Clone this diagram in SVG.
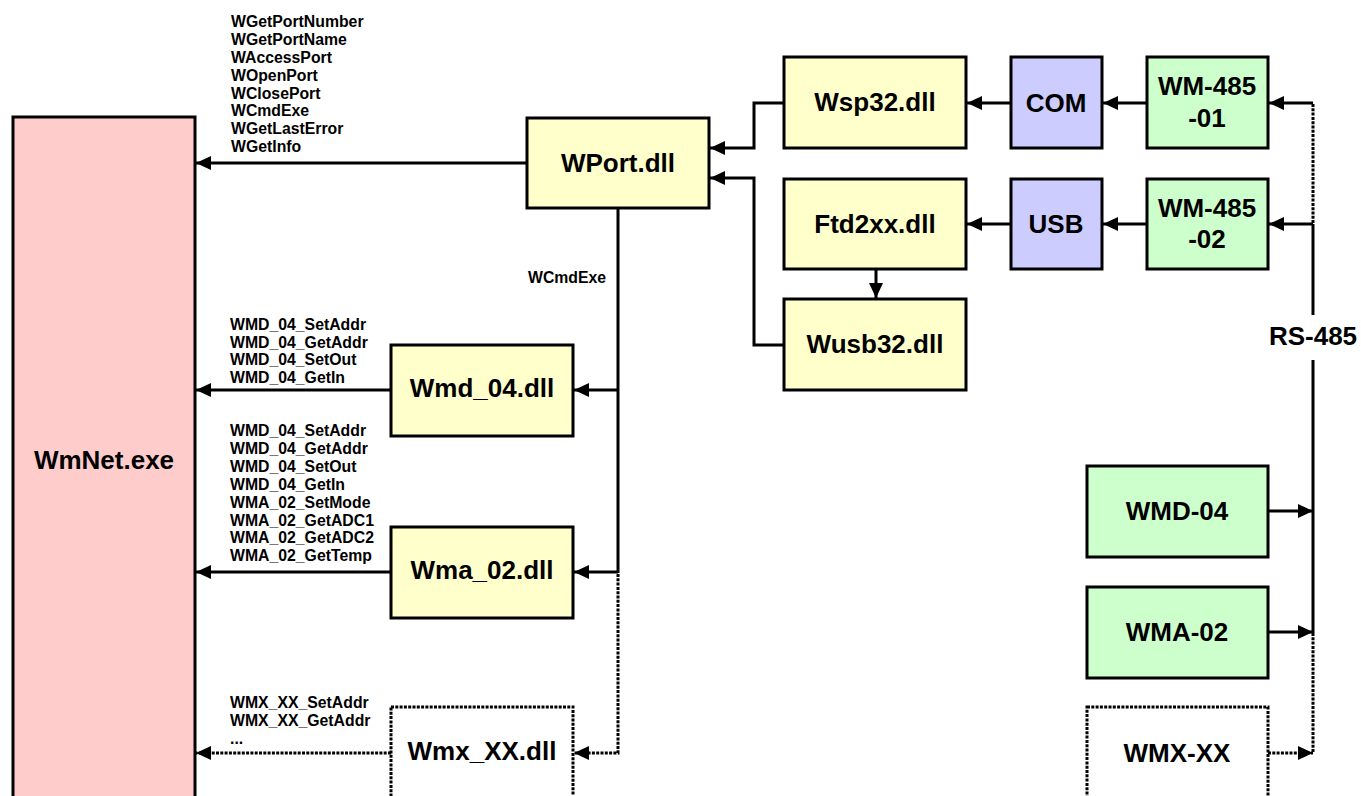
<svg xmlns="http://www.w3.org/2000/svg" width="1361" height="796" viewBox="0 0 1361 796">
<defs>
<marker id="ah" markerUnits="userSpaceOnUse" markerWidth="16" markerHeight="16" viewBox="0 0 16 16" refX="15" refY="8" orient="auto">
<path d="M0,1 L15,8 L0,15 Z" fill="#000"/>
</marker>
</defs>
<style>
.box{stroke:#000;stroke-width:3}
.pink{fill:#FFCCCC}
.yel{fill:#FFFFCC}
.blu{fill:#CCCCFF}
.grn{fill:#CCFFCC}
.dot{fill:#fff;stroke:#000;stroke-width:3;stroke-dasharray:3 1.3}
.big{font-family:"Liberation Sans",Arial,sans-serif;font-weight:bold;font-size:26px;text-anchor:middle;fill:#000}
.sm{font-family:"Liberation Sans",Arial,sans-serif;font-weight:bold;font-size:15.8px;fill:#000}
.ln{fill:none;stroke:#000;stroke-width:3}
.dl{fill:none;stroke:#000;stroke-width:3;stroke-dasharray:3 1.3}
</style>
<rect width="1361" height="796" fill="#fff"/>

<g id="connectors">
<path class="ln" d="M527,163 H196" marker-end="url(#ah)"/>
<path class="ln" d="M784,103 H754 V148 H710" marker-end="url(#ah)"/>
<path class="ln" d="M784,345 H754 V178 H710" marker-end="url(#ah)"/>
<path class="ln" d="M876,269 V298" marker-end="url(#ah)"/>
<path class="ln" d="M1011,103 H967" marker-end="url(#ah)"/>
<path class="ln" d="M1011,224 H967" marker-end="url(#ah)"/>
<path class="ln" d="M1147,103 H1103" marker-end="url(#ah)"/>
<path class="ln" d="M1147,224 H1103" marker-end="url(#ah)"/>
<path class="ln" d="M1313,103 H1269" marker-end="url(#ah)"/>
<path class="dl" d="M1313,104 V224"/>
<path class="ln" d="M1313,224 H1269" marker-end="url(#ah)"/>
<path class="ln" d="M1313,224 V315"/>
<path class="ln" d="M1313,360 V633"/>
<path class="ln" d="M1268,511 H1313" marker-end="url(#ah)"/>
<path class="ln" d="M1268,632 H1313" marker-end="url(#ah)"/>
<path class="dl" d="M1313,633 V753"/>
<path class="dl" d="M1268,753 H1313" marker-end="url(#ah)"/>
<path class="ln" d="M618,208 V573"/>
<path class="ln" d="M618,390 H574" marker-end="url(#ah)"/>
<path class="ln" d="M618,572 H574" marker-end="url(#ah)"/>
<path class="dl" d="M618,574 V753 H574" marker-end="url(#ah)"/>
<path class="ln" d="M391,390 H196" marker-end="url(#ah)"/>
<path class="ln" d="M391,572 H196" marker-end="url(#ah)"/>
<path class="dl" d="M391,753 H196" marker-end="url(#ah)"/>
</g>

<g id="labels">
<text class="sm" x="231" y="27">WGetPortNumber</text>
<text class="sm" x="231" y="45">WGetPortName</text>
<text class="sm" x="231" y="63">WAccessPort</text>
<text class="sm" x="231" y="81">WOpenPort</text>
<text class="sm" x="231" y="99">WClosePort</text>
<text class="sm" x="231" y="116">WCmdExe</text>
<text class="sm" x="231" y="134">WGetLastError</text>
<text class="sm" x="231" y="152">WGetInfo</text>
<text class="sm" x="528" y="283">WCmdExe</text>
<text class="sm" x="230" y="330">WMD_04_SetAddr</text>
<text class="sm" x="230" y="348">WMD_04_GetAddr</text>
<text class="sm" x="230" y="365">WMD_04_SetOut</text>
<text class="sm" x="230" y="383">WMD_04_GetIn</text>
<text class="sm" x="230" y="436">WMD_04_SetAddr</text>
<text class="sm" x="230" y="454">WMD_04_GetAddr</text>
<text class="sm" x="230" y="472">WMD_04_SetOut</text>
<text class="sm" x="230" y="490">WMD_04_GetIn</text>
<text class="sm" x="230" y="508">WMA_02_SetMode</text>
<text class="sm" x="230" y="526">WMA_02_GetADC1</text>
<text class="sm" x="230" y="543">WMA_02_GetADC2</text>
<text class="sm" x="230" y="561">WMA_02_GetTemp</text>
<text class="sm" x="230" y="708">WMX_XX_SetAddr</text>
<text class="sm" x="230" y="726">WMX_XX_GetAddr</text>
<text class="sm" x="230" y="744">...</text>
<text class="big" x="1313" y="345">RS-485</text>
</g>

<g id="wmnet"><rect class="box pink" x="13" y="117" width="182" height="700"/><text class="big" x="104" y="469">WmNet.exe</text></g>
<g id="wport"><rect class="box yel" x="527" y="118" width="182" height="90"/><text class="big" x="618" y="172">WPort.dll</text></g>
<g id="wsp32"><rect class="box yel" x="784" y="57" width="182" height="91"/><text class="big" x="875" y="111">Wsp32.dll</text></g>
<g id="ftd2xx"><rect class="box yel" x="784" y="179" width="182" height="90"/><text class="big" x="875" y="233">Ftd2xx.dll</text></g>
<g id="wusb32"><rect class="box yel" x="784" y="299" width="182" height="91"/><text class="big" x="875" y="353">Wusb32.dll</text></g>
<g id="com"><rect class="box blu" x="1011" y="57" width="91" height="91"/><text class="big" x="1056" y="112">COM</text></g>
<g id="usb"><rect class="box blu" x="1011" y="179" width="91" height="90"/><text class="big" x="1056" y="233">USB</text></g>
<g id="wm48501"><rect class="box grn" x="1147" y="57" width="121" height="91"/><text class="big" x="1207" y="95">WM-485</text><text class="big" x="1207" y="127">-01</text></g>
<g id="wm48502"><rect class="box grn" x="1147" y="179" width="121" height="90"/><text class="big" x="1207" y="217">WM-485</text><text class="big" x="1207" y="248">-02</text></g>
<g id="wmd04dll"><rect class="box yel" x="391" y="345" width="182" height="91"/><text class="big" x="482" y="397">Wmd_04.dll</text></g>
<g id="wma02dll"><rect class="box yel" x="391" y="527" width="182" height="91"/><text class="big" x="482" y="579">Wma_02.dll</text></g>
<g id="wmxdll"><rect class="dot" x="391" y="707" width="182" height="110"/><text class="big" x="482" y="760">Wmx_XX.dll</text></g>
<g id="wmd04"><rect class="box grn" x="1087" y="466" width="181" height="91"/><text class="big" x="1177" y="520">WMD-04</text></g>
<g id="wma02"><rect class="box grn" x="1087" y="587" width="181" height="91"/><text class="big" x="1177" y="641">WMA-02</text></g>
<g id="wmxxx"><rect class="dot" x="1087" y="707" width="181" height="110"/><text class="big" x="1177" y="762">WMX-XX</text></g>
</svg>
